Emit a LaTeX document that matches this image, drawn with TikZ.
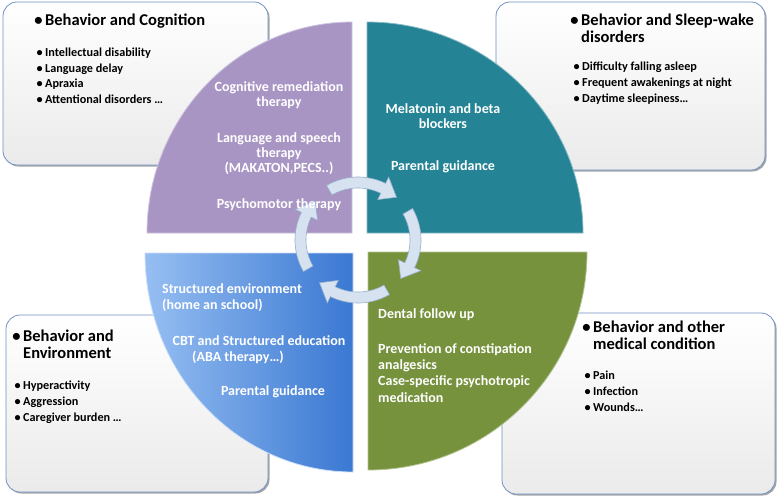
\documentclass[tikz,border=0pt]{standalone}
\usepackage{fontspec}
\setmainfont{Carlito}
\usetikzlibrary{shadows}
\definecolor{purp}{RGB}{168,149,196}
\definecolor{teal2}{RGB}{36,131,148}
\definecolor{bluel}{RGB}{150,190,242}
\definecolor{blued}{RGB}{58,120,210}
\definecolor{olive2}{RGB}{118,146,60}
\definecolor{boxline}{RGB}{112,146,196}
\definecolor{arrfill}{RGB}{214,226,240}
\definecolor{arrline}{RGB}{150,175,205}
\newcommand{\qtfont}{\bfseries\fontsize{14}{16}\selectfont}
\newcommand{\bxtfont}{\bfseries\fontsize{16.5}{19}\selectfont}
\newcommand{\bxifont}{\bfseries\fontsize{12.2}{14}\selectfont}
\newcommand{\mybul}{\makebox[0pt][r]{\textbullet\hspace{2.5pt}}}
\tikzset{
 infobox/.style={draw=boxline, line width=0.8pt, rounded corners=14pt, top color=white, bottom color=black!8,
   drop shadow={shadow xshift=1.5pt,shadow yshift=-1.5pt,opacity=0.35,fill=black}},
 qtxt/.style={font=\qtfont, text=white, inner sep=0pt},
 ttl/.style={font=\bxtfont, text=black, inner sep=0pt, anchor=base west},
 itm/.style={font=\bxifont, text=black, inner sep=0pt, anchor=base west},
 quad/.style={line width=0.8pt},
 cycarrow/.pic={\filldraw[fill=arrfill, draw=arrline, line width=0.6pt]
   (-120:52) arc[start angle=-120,end angle=-64,radius=52] -- (-64:45) -- (-48:57.5) -- (-64:70) -- (-64:63)
   arc[start angle=-64,end angle=-120,radius=63] -- cycle;}
}
\begin{document}
\begin{tikzpicture}[x=1pt,y=-1pt]
\useasboundingbox (0,0) rectangle (778,501);
\fill[white] (0,0) rectangle (778,501);
% info boxes
\path[infobox] (3,2) rectangle (268,165);
\path[infobox] (496,2) rectangle (765,170);
\path[infobox] (6,315) rectangle (268,492);
\path[infobox] (502,313) rectangle (775,494);
% quadrants
\path[quad, fill=purp, draw=purp!55!white] (352,233) -- (147,233)
  arc[start angle=180,end angle=270,x radius=205,y radius=211] -- cycle;
\path[quad, fill=teal2, draw=teal2!55!white] (367,233) -- (367,22)
  arc[start angle=270,end angle=360,x radius=216,y radius=211] -- cycle;
\shade[left color=bluel, right color=blued] (353,253) -- (353,472)
  arc[start angle=90,end angle=180,x radius=208,y radius=219] -- cycle;
\draw[quad, draw=bluel!50!white] (353,253) -- (353,472)
  arc[start angle=90,end angle=180,x radius=208,y radius=219] -- cycle;
\path[quad, fill=olive2, draw=olive2!55!white] (368,252) -- (587,252)
  arc[start angle=0,end angle=90,x radius=219,y radius=218] -- cycle;
% cycle arrows
\begin{scope}[shift={(358,240)}]
 \pic {cycarrow};
 \pic[rotate=-90] {cycarrow};
 \pic[rotate=-180] {cycarrow};
 \pic[rotate=-270] {cycarrow};
\end{scope}
% box texts
\node[ttl] (c0) at (45,25.5) {\mybul Behavior and Cognition};
\node[itm] (c1) at (45,56.5) {\mybul Intellectual disability};
\node[itm] (c2) at (45,72) {\mybul Language delay};
\node[itm] (c3) at (45,87.5) {\mybul Apraxia};
\node[itm] (c4) at (45,103) {\mybul Attentional disorders \dots};

\node[ttl] (s0) at (581,25.5) {\mybul Behavior and Sleep-wake};
\node[ttl] (s0b) at (581,42) {disorders};
\node[itm] (s1) at (582,70) {\mybul Difficulty falling asleep};
\node[itm] (s2) at (582,86) {\mybul Frequent awakenings at night};
\node[itm] (s3) at (582,102) {\mybul Daytime sleepiness\dots};

\node[ttl] (e0) at (23,341) {\mybul Behavior and};
\node[ttl] (e0b) at (23,358.5) {Environment};
\node[itm] (e1) at (23,389) {\mybul Hyperactivity};
\node[itm] (e2) at (23,405) {\mybul Aggression};
\node[itm] (e3) at (23,421) {\mybul Caregiver burden \dots};

\node[ttl] (m0) at (593,332) {\mybul Behavior and other};
\node[ttl] (m0b) at (593,349) {medical condition};
\node[itm] (m1) at (593,379) {\mybul Pain};
\node[itm] (m2) at (593,395) {\mybul Infection};
\node[itm] (m3) at (593,411) {\mybul Wounds\dots};
% quadrant texts
\node[qtxt, anchor=base] (pa) at (279,91) {Cognitive remediation};
\node[qtxt, anchor=base] (pb) at (279,106) {therapy};
\node[qtxt, anchor=base] (pc) at (279,142) {Language and speech};
\node[qtxt, anchor=base] (pd) at (279,157) {therapy};
\node[qtxt, anchor=base] (pe) at (279,172) {(MAKATON,PECS..)};
\node[qtxt, anchor=base] (pf) at (279,208) {Psychomotor therapy};

\node[qtxt, anchor=base] (ta) at (443,113) {Melatonin and beta};
\node[qtxt, anchor=base] (tb) at (443,128) {blockers};
\node[qtxt, anchor=base] (tc) at (443,170) {Parental guidance};

\node[qtxt, anchor=base west] (ba) at (162,293) {Structured environment};
\node[qtxt, anchor=base west] (bb) at (162,309) {(home an school)};
\node[qtxt, anchor=base] (bc) at (259,345) {CBT and Structured education};
\node[qtxt, anchor=base] (bd) at (238,361) {(ABA therapy\dots)};
\node[qtxt, anchor=base] (be) at (273,395) {Parental guidance};

\node[qtxt, anchor=base west] (ga) at (378,318) {Dental follow up};
\node[qtxt, anchor=base west] (gb) at (378,353) {Prevention of constipation};
\node[qtxt, anchor=base west] (gc) at (378,369) {analgesics};
\node[qtxt, anchor=base west] (gd) at (378,385.5) {Case-specific psychotropic};
\node[qtxt, anchor=base west] (ge) at (378,402) {medication};
\end{tikzpicture}
\end{document}
